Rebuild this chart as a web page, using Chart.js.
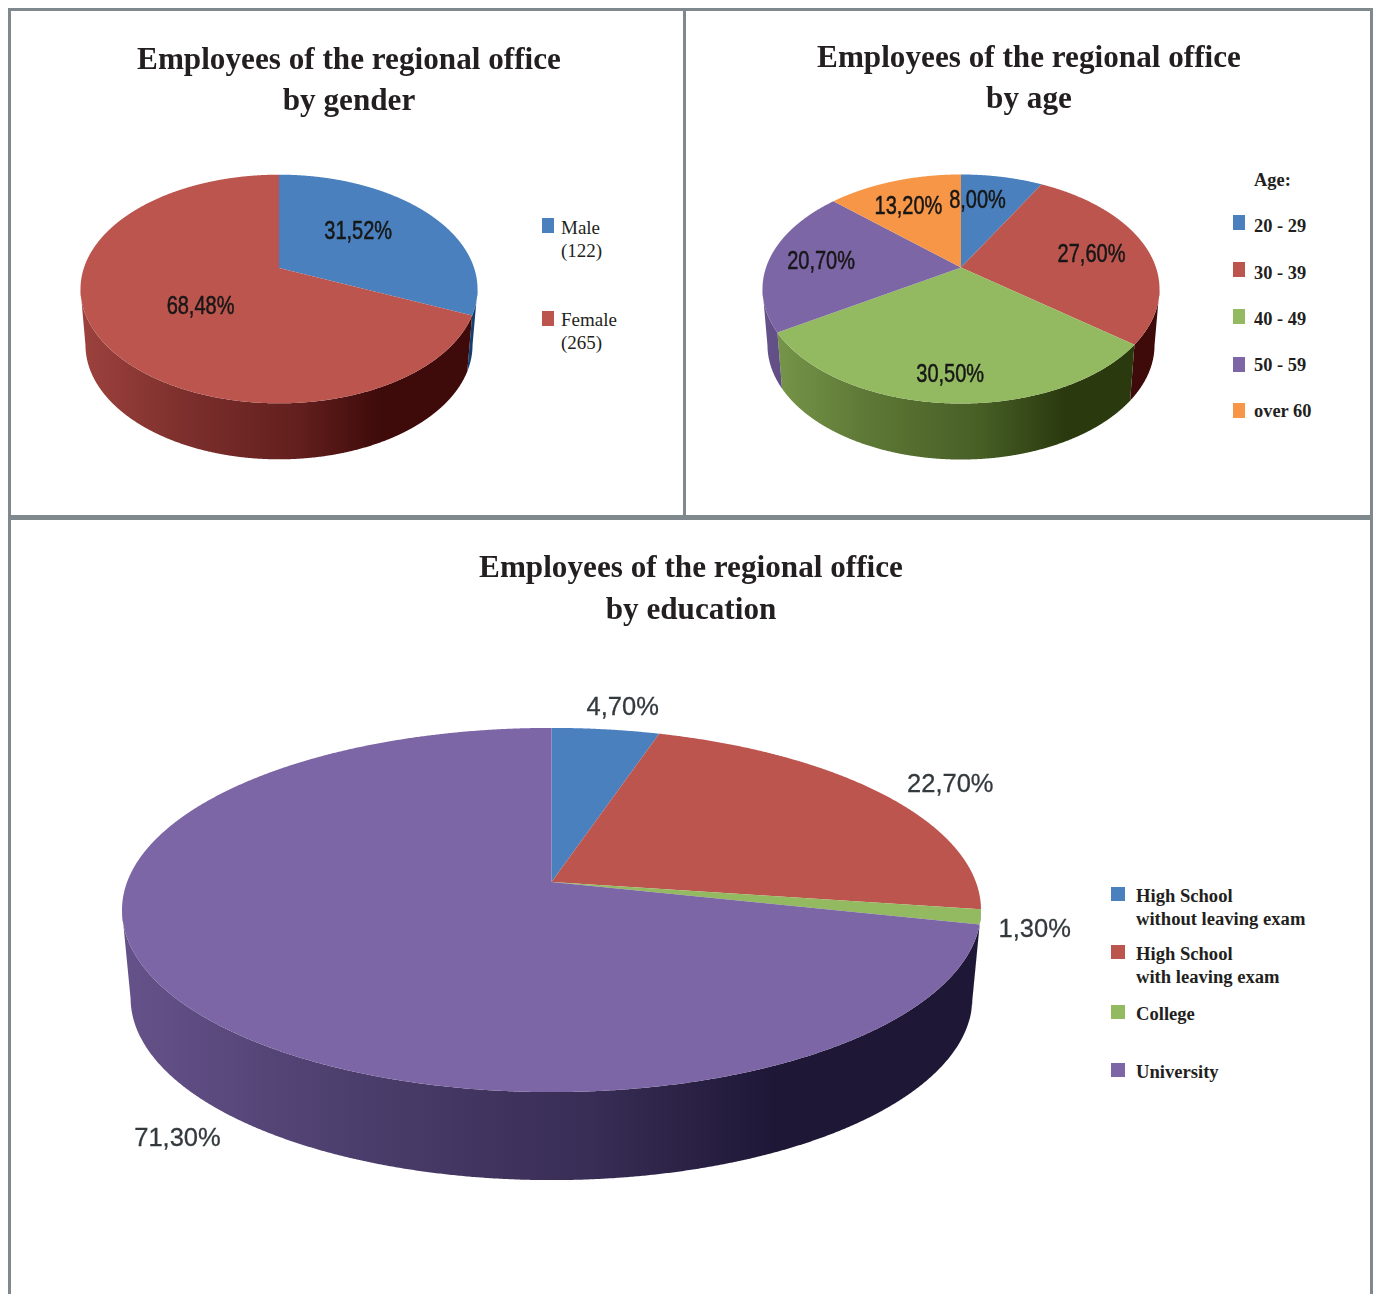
<!DOCTYPE html>
<html>
<head>
<meta charset="utf-8">
<title>Employees of the regional office</title>
<script src="https://cdn.jsdelivr.net/npm/chart.js@4"></script>
<style>
    html, body { margin: 0; padding: 0; background: #fff; }
    body { position: relative; width: 1373px; height: 1294px; overflow: hidden; font-family: "Liberation Serif", serif; color: #231f20; }
    canvas { position: absolute; }
    .rule { position: absolute; background: #7e888d; }
    .title { position: absolute; width: 640px; text-align: center; font-weight: bold; font-size: 31.2px; white-space: nowrap; }
    .swatch { position: absolute; }
    .item { position: absolute; white-space: nowrap; }
</style>
</head>
<body>
<div class="rule" style="left:8px;top:8px;width:1365px;height:3px"></div>
<div class="rule" style="left:8px;top:8px;width:3px;height:1286px"></div>
<div class="rule" style="left:683px;top:8px;width:3px;height:510px"></div>
<div class="rule" style="left:1370px;top:8px;width:3px;height:1286px"></div>
<div class="rule" style="left:8px;top:515px;width:1365px;height:5px"></div>

<script>
const blue = '#4a80bd';
const red = '#bd554f';
const green = '#93ba60';
const purple = '#7c66a6';
const orange = '#f79646';

// Percentages as printed on the slices
const genderValues = [31.52, 68.48];
const genderLabels = [['Male', '(122)'], ['Female', '(265)']];

const ageValues = [8.0, 27.6, 30.5, 20.7, 13.2];
const ageLabels = [['20 - 29'], ['30 - 39'], ['40 - 49'], ['50 - 59'], ['over 60']];

const educationValues = [4.7, 22.7, 1.3, 71.3];
const educationLabels = [['High School', 'without leaving exam'], ['High School', 'with leaving exam'], ['College'], ['University']];

const darkOf = { [blue]: '#143f70', [red]: '#3e0a0a', [green]: '#2a3a0e', [purple]: '#1e1736', [orange]: '#6b3408' };

function mix(a, b, t) {
    const pa = parseInt(a.slice(1), 16), pb = parseInt(b.slice(1), 16);
    const ch = s => Math.round(((pa >> s) & 255) * (1 - t) + ((pb >> s) & 255) * t);
    return `rgb(${ch(16)},${ch(8)},${ch(0)})`;
}

// Maps an angle (from 12 o'clock) on the flat pie to the tilted ellipse. The
// apex sits above the ellipse centre, as it does under perspective.
function project(p, theta, r = 1) {
    const ux = r * Math.sin(theta), uy = -r * Math.cos(theta);
    const d = 1 + p.apex * uy;
    return {
        x: p.cx + p.rx * ux * Math.sqrt(1 - p.apex * p.apex) / d,
        y: p.cy + p.rx * p.tilt * (uy + p.apex) / d
    };
}

const pie3d = {
    id: 'pie3d',
    beforeDatasetDraw(chart) {
        const opts = chart.config.options.plugins.pie3d;
        const { ctx } = chart;
        const arcs = chart.getDatasetMeta(0).data;
        const colors = chart.data.datasets[0].backgroundColor;
        const p = { cx: arcs[0].x, cy: arcs[0].y, rx: arcs[0].outerRadius, tilt: opts.tilt, apex: opts.apex };

        // Side walls first, only the front half of the rim shows
        arcs.forEach((arc, i) => {
            const from = arc.startAngle + Math.PI / 2, to = arc.endAngle + Math.PI / 2;
            const rim = [];
            for (let t = from; t < to; t += 0.004) {
                const pt = project(p, t);
                if (pt.y >= p.cy) rim.push(pt);
            }
            const last = project(p, to);
            if (last.y >= p.cy) rim.push(last);
            if (rim.length < 2) return;

            const g = ctx.createLinearGradient(p.cx - p.rx, 0, p.cx + p.rx, 0);
            const dark = darkOf[colors[i]];
            g.addColorStop(0, mix(colors[i], dark, 0.25));
            g.addColorStop(0.25, mix(colors[i], dark, 0.5));
            g.addColorStop(0.55, mix(colors[i], dark, 0.72));
            g.addColorStop(0.76, dark);
            g.addColorStop(1, dark);

            ctx.beginPath();
            rim.forEach((pt, k) => k ? ctx.lineTo(pt.x, pt.y) : ctx.moveTo(pt.x, pt.y));
            rim.slice().reverse().forEach(pt => ctx.lineTo(p.cx + (pt.x - p.cx) * opts.shrink, pt.y + opts.depth));
            ctx.closePath();
            ctx.fillStyle = g;
            ctx.fill();
        });

        // Top faces
        arcs.forEach((arc, i) => {
            const from = arc.startAngle + Math.PI / 2, to = arc.endAngle + Math.PI / 2;
            const apex = project(p, 0, 0);
            ctx.beginPath();
            ctx.moveTo(apex.x, apex.y);
            for (let t = from; t < to; t += 0.004) {
                const pt = project(p, t);
                ctx.lineTo(pt.x, pt.y);
            }
            const end = project(p, to);
            ctx.lineTo(end.x, end.y);
            ctx.closePath();
            ctx.fillStyle = colors[i];
            ctx.fill();
        });

        // Percentage labels, placed relative to the middle of each slice's rim
        const values = chart.data.datasets[0].data;
        arcs.forEach((arc, i) => {
            const mid = (arc.startAngle + arc.endAngle) / 2 + Math.PI / 2;
            const rimPt = project(p, mid);
            const shift = opts.labelShift[i];
            const text = values[i].toFixed(2).replace('.', ',') + '%';
            ctx.save();
            ctx.translate(rimPt.x + shift[0], rimPt.y + shift[1]);
            ctx.scale(opts.labelScale, 1);
            ctx.font = opts.labelFont;
            ctx.fillStyle = opts.labelColor;
            ctx.strokeStyle = opts.labelColor;
            ctx.lineWidth = opts.labelStroke;
            ctx.textAlign = 'center';
            ctx.textBaseline = 'middle';
            ctx.fillText(text, 0, 0);
            ctx.strokeText(text, 0, 0);
            ctx.restore();
        });
        return false;
    }
};

function drawPie(left, top, width, height, radius, values, labels, colors, opts) {
    const canvas = document.createElement('canvas');
    canvas.width = width;
    canvas.height = height;
    canvas.style.left = left + 'px';
    canvas.style.top = top + 'px';
    document.body.appendChild(canvas);
    return new Chart(canvas.getContext('2d'), {
        type: 'pie',
        data: {
            labels: labels.map(l => l.join(' ')),
            datasets: [{ data: values, backgroundColor: colors, borderWidth: 0 }]
        },
        options: {
            responsive: false,
            animation: false,
            radius: radius,
            plugins: { legend: { display: false }, tooltip: { enabled: false }, pie3d: opts }
        },
        plugins: [pie3d]
    });
}

function addText(cls, css, lines) {
    const el = document.createElement('div');
    el.className = cls;
    el.style.cssText = css;
    lines.forEach((line, i) => {
        if (i) el.appendChild(document.createElement('br'));
        el.appendChild(document.createTextNode(line));
    });
    document.body.appendChild(el);
}

function addLegend(labels, colors, boxX, boxW, boxH, textX, tops, font, lineH) {
    labels.forEach((lines, i) => {
        const sw = document.createElement('div');
        sw.className = 'swatch';
        sw.style.cssText = `left:${boxX}px;top:${tops[i][0]}px;width:${boxW}px;height:${boxH}px;background:${colors[i]}`;
        document.body.appendChild(sw);
        addText('item', `left:${textX}px;top:${tops[i][1]}px;font:${font};line-height:${lineH}px`, lines);
    });
}

const genderColors = [blue, red];
const ageColors = [blue, red, green, purple, orange];
const educationColors = [blue, red, green, purple];

drawPie(29, 39, 500, 500, 198.5, genderValues, genderLabels, genderColors, {
    tilt: 0.576, apex: -0.184, depth: 56, shrink: 0.975,
    labelFont: '25px "Liberation Sans"', labelColor: '#171717', labelScale: 0.8, labelStroke: 0.5,
    labelShift: [[-69, 19], [103, -28]]
});
drawPie(711, 39, 500, 500, 198.5, ageValues, ageLabels, ageColors, {
    tilt: 0.577, apex: -0.188, depth: 56, shrink: 0.975,
    labelFont: '25px "Liberation Sans"', labelColor: '#171717', labelScale: 0.8, labelStroke: 0.5,
    labelShift: [[-24.5, 24.5], [-53.6, 9], [2, -28], [51, 5], [14.5, 26]]
});
drawPie(1, 480, 1101, 860, 429.5, educationValues, educationLabels, educationColors, {
    tilt: 0.424, apex: -0.154, depth: 88, shrink: 0.98,
    labelFont: '25.5px "Liberation Sans"', labelColor: '#333a3d', labelScale: 1, labelStroke: 0.3,
    labelShift: [[17, -21], [67, -9], [54, 13], [-6, 135]]
});

addText('title', 'left:29px;top:38px;line-height:41px', ['Employees of the regional office', 'by gender']);
addText('title', 'left:709px;top:36px;line-height:41px', ['Employees of the regional office', 'by age']);
addText('title', 'left:371px;top:546px;line-height:42px', ['Employees of the regional office', 'by education']);

addLegend(genderLabels, genderColors, 542, 12, 15, 561, [[218, 216], [311, 308]], '19px "Liberation Serif"', 23);
addText('item', 'left:1254px;top:170px;font:bold 18.4px "Liberation Serif";line-height:21px', ['Age:']);
addLegend(ageLabels, ageColors, 1233, 12, 15, 1254,
    [[215, 216], [262, 263], [309, 309], [357, 355], [403, 401]], 'bold 18.4px "Liberation Serif"', 21);
addLegend(educationLabels, educationColors, 1111, 14, 14, 1136,
    [[887, 884], [945, 942], [1005, 1002], [1063, 1060]], 'bold 18.6px "Liberation Serif"', 23);
</script>
</body>
</html>
